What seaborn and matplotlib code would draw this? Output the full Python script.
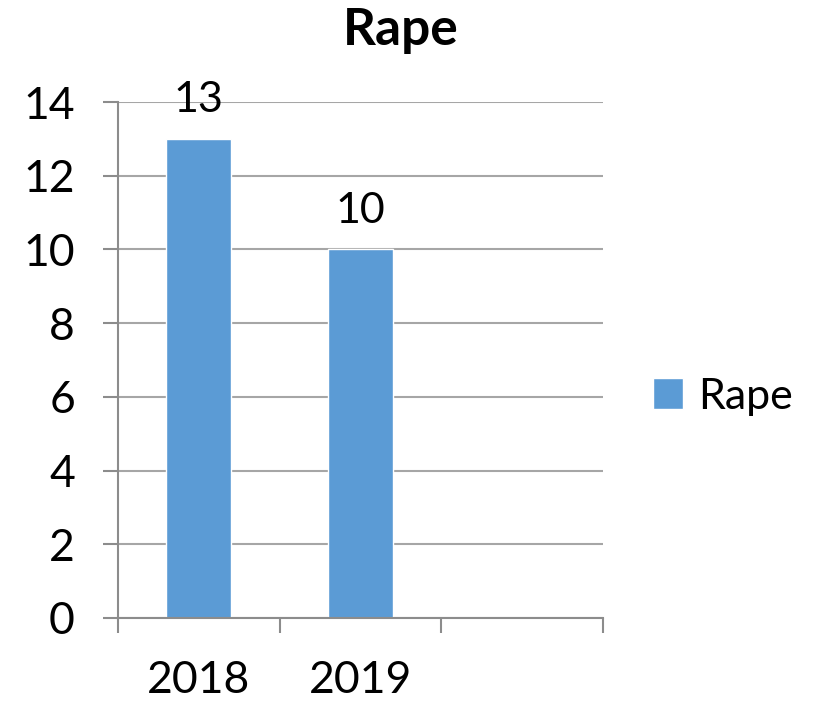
import numpy as np
import pandas as pd
import matplotlib
matplotlib.use("Agg")
import matplotlib.pyplot as plt
import seaborn as sns

# chart data
years = ['2018', '2019', '']
cases = [13, 10, np.nan]
series_name = 'Rape'

df = pd.DataFrame({'year': years, 'cases': cases})

sns.set_style('white')
plt.rcParams['font.family'] = ['Lato', 'DejaVu Sans']
plt.rcParams['text.color'] = 'black'
plt.rcParams['xtick.labelcolor'] = 'black'
plt.rcParams['ytick.labelcolor'] = 'black'

fig = plt.figure(figsize=(8.17, 7.02), dpi=100)
ax = fig.add_axes([0.1444, 0.1197, 0.5936, 0.735])

bar_color = '#5B9BD5'
sns.barplot(data=df, x='year', y='cases', order=years, color=bar_color,
            width=0.4, ax=ax, label=series_name, saturation=1)

# value labels above bars
for p in ax.patches:
    h = p.get_height()
    if np.isnan(h):
        continue
    ax.annotate(f'{h:.0f}', (p.get_x() + p.get_width() / 2, h),
                xytext=(0, 14), textcoords='offset points',
                ha='center', va='bottom', fontsize=31, color='black')

ax.set_ylim(0, 14)
ax.set_xlim(-0.5, len(years) - 0.5)
ax.set_yticks(range(0, 15, 2))
ax.yaxis.grid(True, color='#A6A6A6', linewidth=1.5)
ax.set_axisbelow(True)

for side in ['top', 'right']:
    ax.spines[side].set_visible(False)
for side in ['left', 'bottom']:
    ax.spines[side].set_color('#8C8C8C')
    ax.spines[side].set_linewidth(1.5)

ax.tick_params(axis='y', left=True, length=11, width=1.5, color='#8C8C8C',
               labelsize=32, pad=20)
ax.tick_params(axis='x', which='major', bottom=False, length=0, labelsize=32, pad=30)
ax.set_xticks(np.arange(-0.5, len(years), 1.0), minor=True)
ax.tick_params(axis='x', which='minor', bottom=True, length=11, width=1.5, color='#8C8C8C')
ax.set_xlabel('')
ax.set_ylabel('')

fig.suptitle(series_name, x=0.49, y=0.99, fontsize=37, fontweight='bold')

handles, labels = ax.get_legend_handles_labels()
if ax.get_legend():
    ax.get_legend().remove()
fig.legend(handles, labels, loc='center left', bbox_to_anchor=(0.752, 0.435),
           frameon=False, fontsize=31, handlelength=0.7, handleheight=0.7,
           handletextpad=0.35)

fig.savefig('out.png', dpi=100)
